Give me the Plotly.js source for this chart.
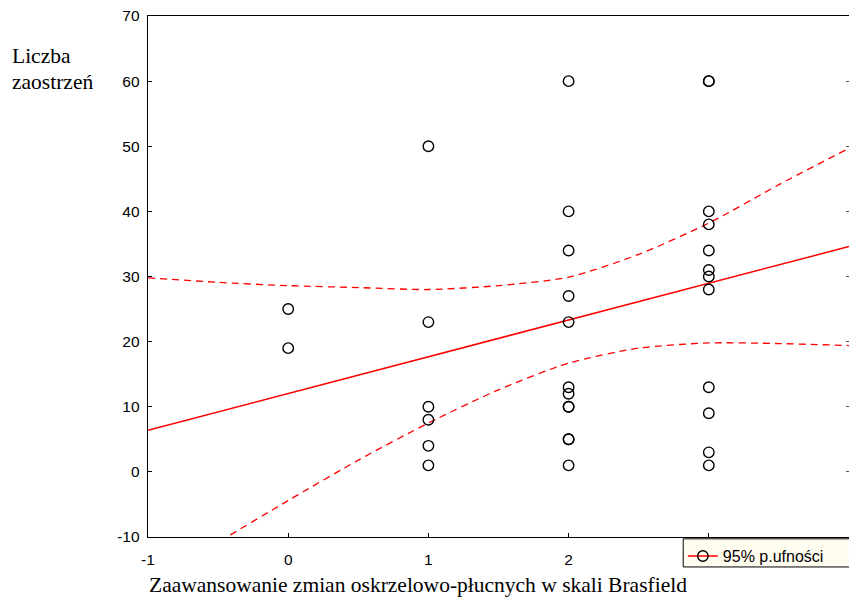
<!DOCTYPE html>
<html>
<head>
<meta charset="utf-8">
<script src="https://cdn.plot.ly/plotly-3.0.1.min.js"></script>
<style>
  html, body { margin: 0; padding: 0; background: #ffffff; }
  #chart { width: 849px; height: 600px; }
</style>
</head>
<body>
<div id="chart"></div>
<script>
// Brasfield stage of each patient and the number of exacerbations
const stage = [
  0, 0,
  1, 1, 1, 1, 1, 1,
  2, 2, 2, 2, 2, 2, 2, 2, 2, 2, 2, 2,
  3, 3, 3, 3, 3, 3, 3, 3, 3, 3, 3, 3
];
const exacerbations = [
  25, 19,
  50, 23, 10, 8, 4, 1,
  60, 40, 34, 27, 23, 13, 12, 10, 10, 5, 5, 1,
  60, 60, 40, 38, 34, 31, 30, 28, 13, 9, 3, 1
];

// Fitted regression line (end points)
const fitX = [-1, 4];
const fitY = [6.4, 34.6];

// 95% confidence band of the fit
const bandX = [-1, -0.5, 0, 0.5, 1, 1.5, 2, 2.5, 3, 3.5, 4];
const bandUpper = [29.8, 29.1, 28.6, 28.3, 28.0, 28.6, 29.9, 33.4, 38.2, 44.1, 49.7];
const bandLower = [-17.2, -10.8, -4.4, 1.8, 7.5, 12.6, 16.7, 19.0, 19.8, 19.7, 19.4];

// Axis ticks
const xTicks = [-1, 0, 1, 2, 3];
const yTicks = [-10, 0, 10, 20, 30, 40, 50, 60, 70];

const legendLabel = '95% p.ufności';
const yTitleLines = ['Liczba', 'zaostrzeń'];
const xTitle = 'Zaawansowanie zmian oskrzelowo-płucnych w skali Brasfield';

const RED = '#ff0000';
const serif = '"Liberation Serif", "Times New Roman", serif';
const sans = '"Liberation Sans", Arial, sans-serif';

const circle = { symbol: 'circle-open', size: 10.5, color: '#000000', line: { width: 1.4, color: '#000000' } };

const traces = [
  {
    x: bandX, y: bandUpper, type: 'scatter', mode: 'lines',
    line: { color: RED, width: 1.3, dash: '7px,5px', shape: 'spline', smoothing: 0.7 },
    showlegend: false, hoverinfo: 'skip'
  },
  {
    x: bandX, y: bandLower, type: 'scatter', mode: 'lines',
    line: { color: RED, width: 1.3, dash: '7px,5px', shape: 'spline', smoothing: 0.7 },
    showlegend: false, hoverinfo: 'skip'
  },
  {
    x: fitX, y: fitY, type: 'scatter', mode: 'lines',
    line: { color: RED, width: 1.5 },
    showlegend: false, hoverinfo: 'skip'
  },
  {
    x: stage, y: exacerbations, type: 'scatter', mode: 'markers',
    marker: circle,
    showlegend: false, cliponaxis: false
  },
  // legend entry: points with the fitted line and its band
  {
    x: [null], y: [null], type: 'scatter', mode: 'lines+markers',
    name: legendLabel,
    line: { color: RED, width: 1.3 },
    marker: circle,
    showlegend: true
  },
  // right-hand ticks
  {
    x: [null], y: [null], yaxis: 'y2', type: 'scatter', mode: 'markers',
    showlegend: false, hoverinfo: 'skip'
  }
];

const layout = {
  width: 849,
  height: 600,
  margin: { l: 148, r: 0, t: 16, b: 63 },
  paper_bgcolor: '#ffffff',
  plot_bgcolor: '#ffffff',
  font: { family: sans, size: 15.5, color: '#000000' },
  showlegend: true,
  legend: {
    x: 0.763, y: -0.004, xanchor: 'left', yanchor: 'top',
    bgcolor: 'rgba(0,0,0,0)', borderwidth: 0,
    font: { family: sans, size: 16, color: '#000000' },
    itemwidth: 30
  },
  // legend panel, running on past the right edge of the page
  shapes: [
    {
      type: 'rect', xref: 'paper', yref: 'paper',
      x0: 0.7635, x1: 1.02, y0: -0.0575, y1: -0.0035,
      fillcolor: '#fffcf0', line: { color: '#000000', width: 1 }, layer: 'above'
    }
  ],
  xaxis: {
    range: [-1, 4],
    tickvals: xTicks,
    ticktext: xTicks.map(String),
    ticks: 'inside', ticklen: 4, tickwidth: 1, tickcolor: '#000000',
    showline: true, linecolor: '#000000', linewidth: 1.3, mirror: true,
    showgrid: false, zeroline: false,
    ticklabelstandoff: 8,
    tickfont: { family: sans, size: 15.5, color: '#000000' }
  },
  yaxis: {
    range: [-10, 70],
    tickvals: yTicks,
    ticktext: yTicks.map(String),
    ticks: 'inside', ticklen: 4, tickwidth: 1, tickcolor: '#000000',
    showline: true, linecolor: '#000000', linewidth: 1.3,
    showgrid: false, zeroline: false,
    ticklabelstandoff: 4,
    tickfont: { family: sans, size: 15.5, color: '#000000' }
  },
  yaxis2: {
    overlaying: 'y', side: 'right', range: [-10, 70],
    tickvals: yTicks, showticklabels: false,
    ticks: 'inside', ticklen: 3, tickwidth: 1, tickcolor: '#555555',
    showline: false, showgrid: false, zeroline: false
  },
  annotations: [
    {
      text: yTitleLines[0], xref: 'paper', yref: 'paper',
      x: -0.197, y: 0.923, xanchor: 'left', yanchor: 'middle', showarrow: false,
      font: { family: serif, size: 21.5, color: '#000000' }
    },
    {
      text: yTitleLines[1], xref: 'paper', yref: 'paper',
      x: -0.197, y: 0.873, xanchor: 'left', yanchor: 'middle', showarrow: false,
      font: { family: serif, size: 21.5, color: '#000000' }
    },
    {
      text: xTitle, xref: 'paper', yref: 'paper',
      x: -0.001, y: -0.092, xanchor: 'left', yanchor: 'middle', showarrow: false,
      font: { family: serif, size: 21.5, color: '#000000' }
    }
  ]
};

Plotly.newPlot('chart', traces, layout, { displayModeBar: false, staticPlot: true });
</script>
</body>
</html>
